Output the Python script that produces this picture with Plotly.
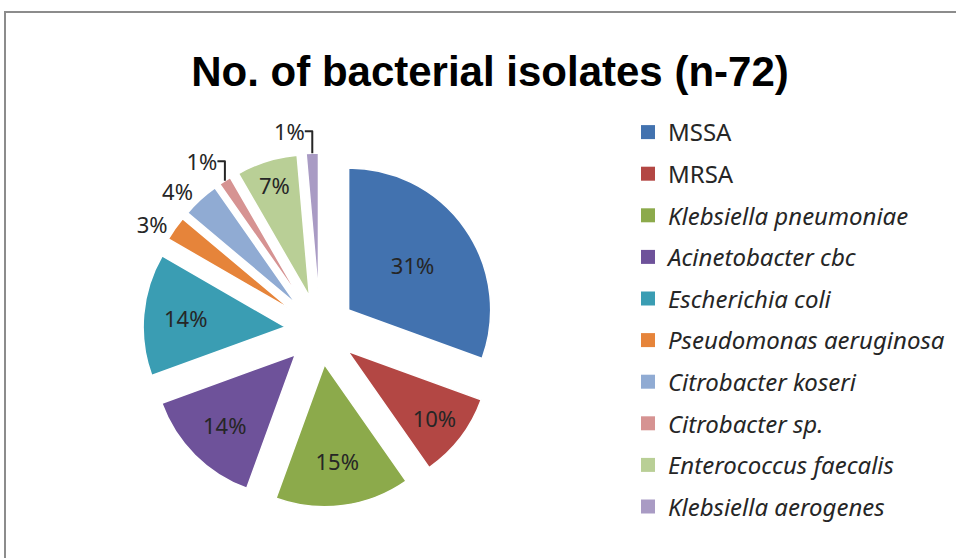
import plotly.graph_objects as go

labels = ["MSSA", "MRSA", "Klebsiella pneumoniae", "Acinetobacter cbc", "Escherichia coli",
          "Pseudomonas aeruginosa", "Citrobacter koseri", "Citrobacter sp.",
          "Enterococcus faecalis", "Klebsiella aerogenes"]
counts = [22, 7, 11, 10, 10, 2, 3, 1, 5, 1]
italic = [False, False, True, True, True, True, True, True, True, True]
colors = ["#4272AF", "#B34744", "#8CAA4B", "#6E529A", "#3A9DB3",
          "#E6843A", "#90ABD3", "#D69392", "#B9CF96", "#A99BC4"]
text_pos = ["inside", "inside", "inside", "inside", "inside",
            "outside", "outside", "outside", "inside", "outside"]

W, H = 956, 558
pull = 0.246
cx, cy, R = 320, 330, 177  # pie domain centre / half-size in px

fig = go.Figure()
fig.add_trace(go.Pie(
    labels=labels, values=counts, sort=False, direction="clockwise", rotation=0,
    marker=dict(colors=colors, line=dict(color="white", width=1.5)),
    pull=[pull] * len(counts),
    texttemplate="%{percent:.0%}", textposition=text_pos,
    insidetextorientation="horizontal",
    textfont=dict(family="Noto Sans, sans-serif", size=22, color="#262626"),
    showlegend=False, hoverinfo="label+value+percent", automargin=False,
    domain=dict(x=[(cx - R) / W, (cx + R) / W], y=[(H - cy - R) / H, (H - cy + R) / H]),
))

# legend entries (one group per category for Excel-like spacing)
for lab, col, it in zip(labels, colors, italic):
    fig.add_trace(go.Scatter(
        x=[None], y=[None], mode="markers", name=f"<i>{lab}</i>" if it else lab,
        marker=dict(symbol="square", size=14, color=col),
        legendgroup=lab, showlegend=True, hoverinfo="skip"))

fig.update_layout(
    width=W, height=H, paper_bgcolor="white", plot_bgcolor="white",
    margin=dict(l=0, r=0, t=0, b=0, autoexpand=False),
    xaxis=dict(visible=False), yaxis=dict(visible=False),
    title=dict(text="<b>No. of bacterial isolates (n-72)</b>", x=490 / W, xanchor="center",
               y=1 - 71 / H, yanchor="middle",
               font=dict(family="Liberation Sans Narrow, Liberation Sans, sans-serif", size=42, color="black")),
    legend=dict(x=628 / W, xanchor="left", y=1 - 110 / H, yanchor="top",
                tracegroupgap=7.4, bgcolor="rgba(0,0,0,0)",
                font=dict(family="Noto Sans, sans-serif", size=24, color="#262626")),
    shapes=[dict(type="rect", xref="paper", yref="paper", x0=5 / W, x1=1.05,
                 y0=-0.05, y1=1 - 12 / H, line=dict(color="#8c8c8c", width=2),
                 fillcolor="rgba(0,0,0,0)", layer="below")],
)

fig.write_html("out.html", config={"displayModeBar": False},
               post_script="document.body.style.margin='0';document.body.style.overflow='hidden';")
